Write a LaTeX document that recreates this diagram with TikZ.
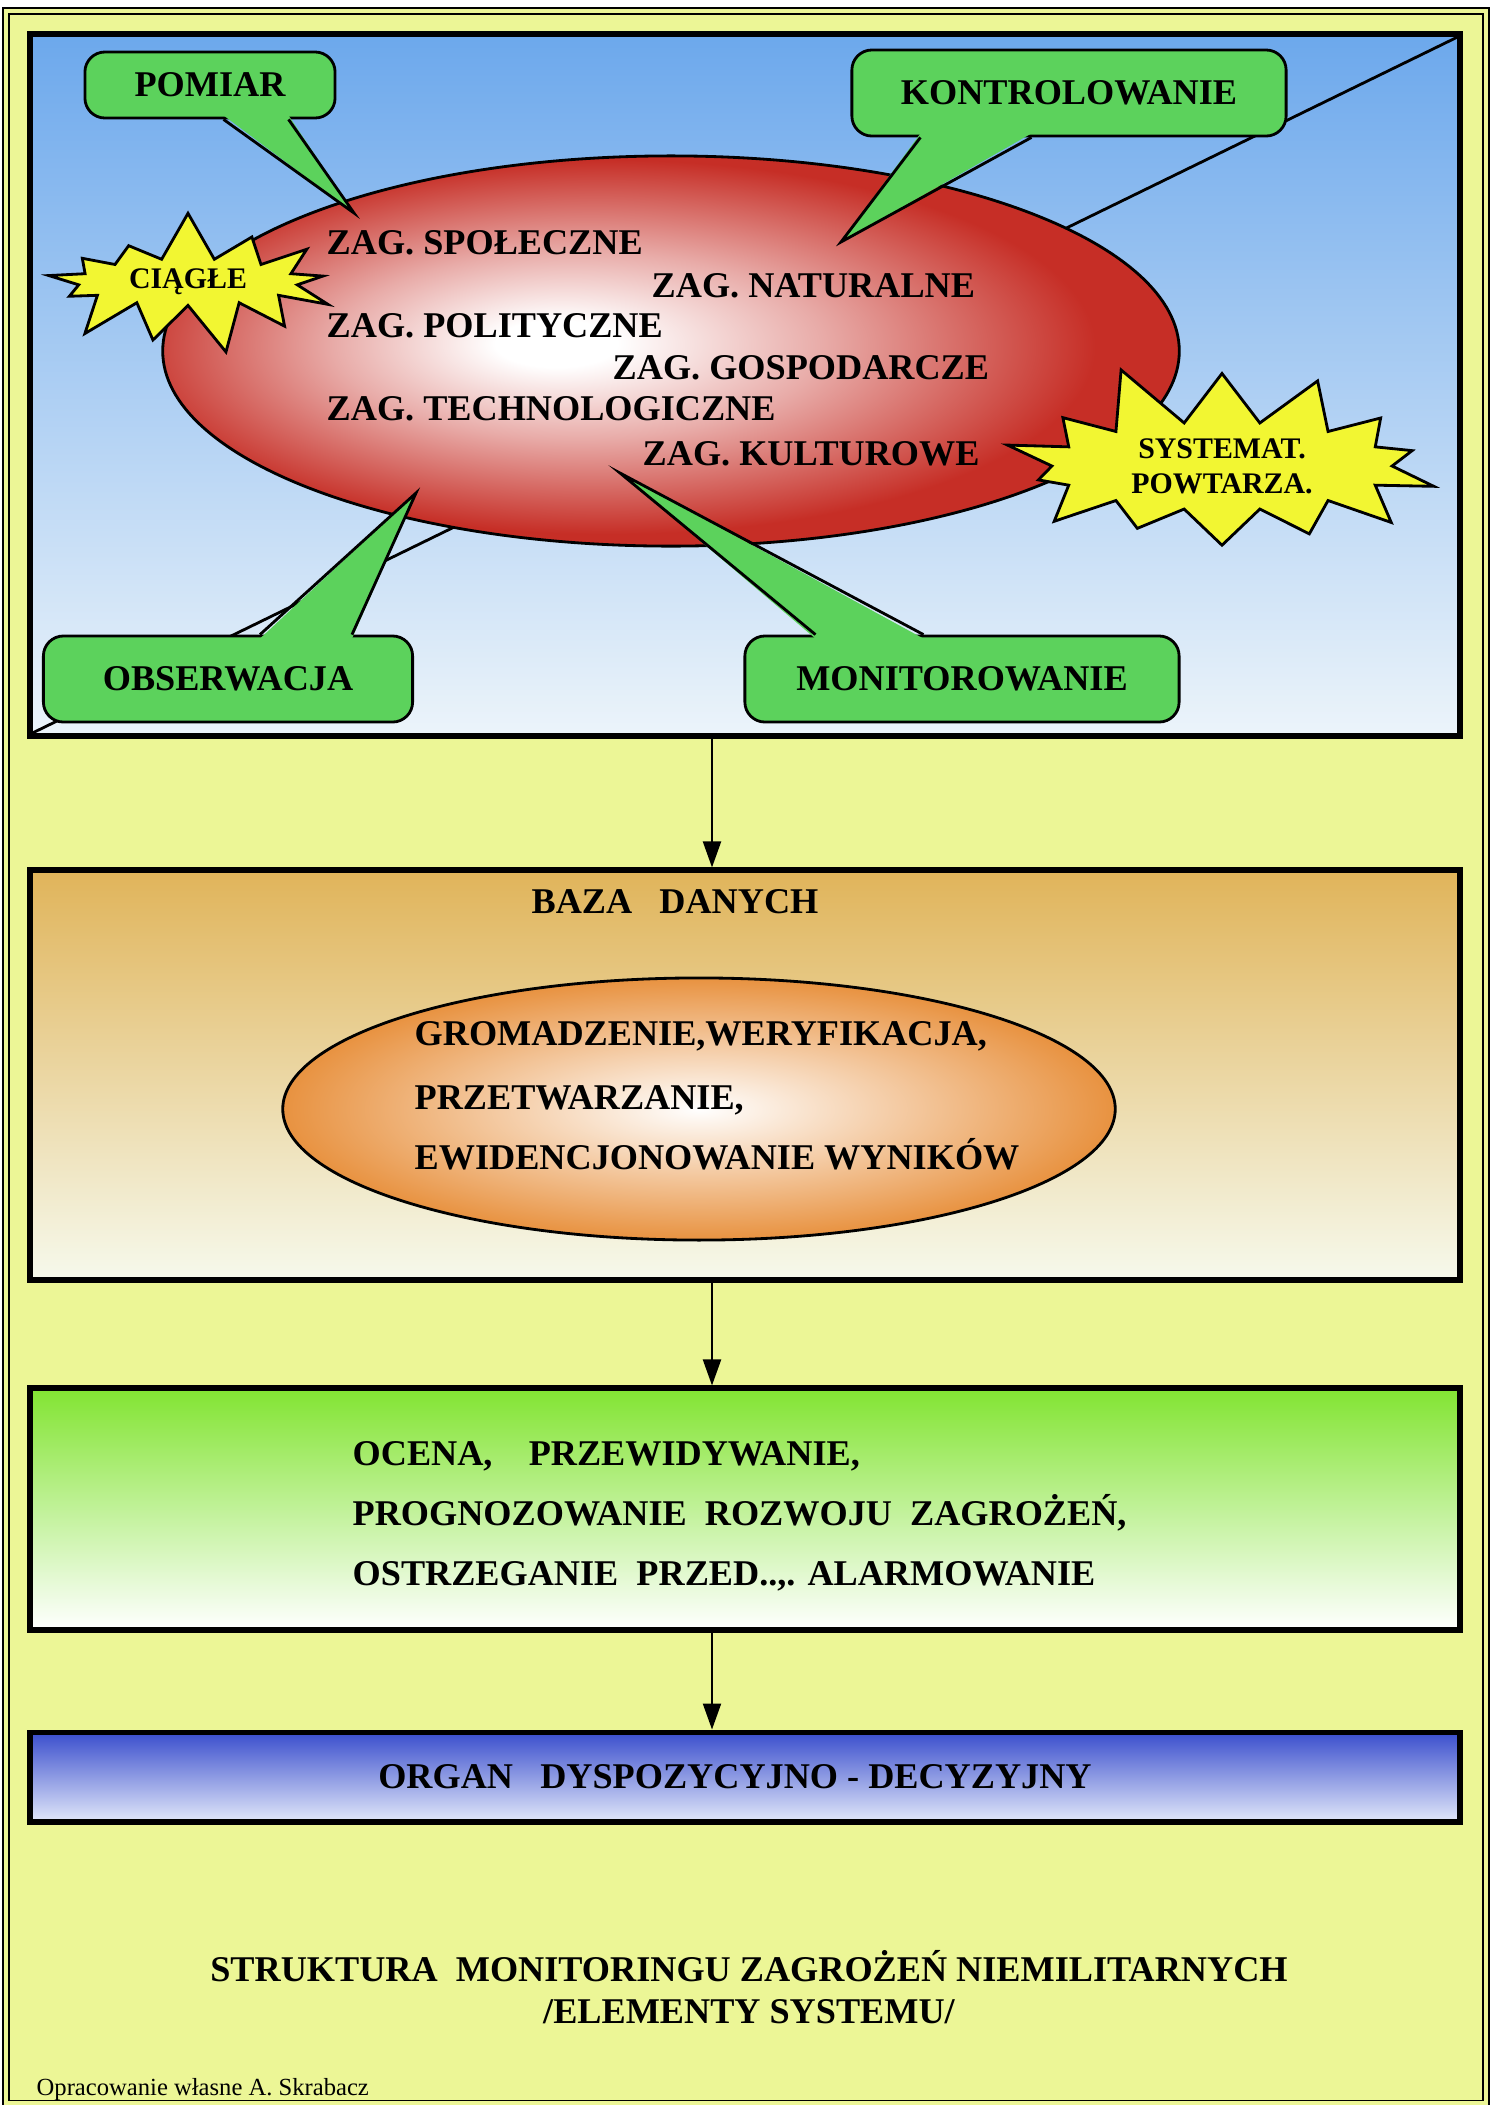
\documentclass[tikz,border=0pt]{standalone}
\usepackage{fontspec}
\setmainfont{Liberation Serif}
\usepackage{tikz}
\usetikzlibrary{calc}
\usetikzlibrary{arrows.meta}
\usetikzlibrary{shapes.geometric}
\usetikzlibrary{shapes.symbols}
\definecolor{pagebg}{RGB}{236,246,150}
\definecolor{skytop}{RGB}{108,168,236}
\definecolor{skybottom}{RGB}{236,244,250}
\definecolor{threatred}{RGB}{198,46,38}
\definecolor{bubblegreen}{RGB}{92,210,92}
\definecolor{burstyellow}{RGB}{242,246,50}
\definecolor{storetop}{RGB}{224,180,90}
\definecolor{storemid}{RGB}{240,230,150}
\definecolor{storebottom}{RGB}{246,249,236}
\definecolor{taskorange}{RGB}{232,146,64}
\definecolor{assesstop}{RGB}{130,228,50}
\definecolor{assessmid}{RGB}{205,244,180}
\definecolor{decidetop}{RGB}{58,78,205}
\definecolor{decidebottom}{RGB}{226,232,250}
\pgfdeclareradialshading{redglow}{\pgfpoint{-6bp}{1bp}}{color(0bp)=(white); color(3bp)=(white); color(12bp)=(threatred!40!white); color(24bp)=(threatred); color(50bp)=(threatred)}
\newcommand{\widthpanel}{14.3cm}
\newcommand{\sizetext}{\fontsize{10.3}{12}\selectfont\bfseries}
\newcommand{\sizeburst}{\fontsize{8.5}{10}\selectfont\bfseries}
\newcommand{\innerframe}[1]{\draw[line width=0.5pt] ([shift={(5,5)}]#1.north west) rectangle ([shift={(-5,-5)}]#1.south east);}
\newcommand{\bubblearm}[6]{%
  \fill[bubblegreen] ($(#1.#2 west)+(#3,#6)$) -- #5 -- ($(#1.#2 west)+(#4,#6)$) -- cycle;
  \draw[armline] ($(#1.#2 west)+(#3,0)$) -- #5 -- ($(#1.#2 west)+(#4,0)$);}
\tikzset{
    panel/.style={draw, rectangle, line width=1.4pt, minimum width=\widthpanel},
    word/.style={anchor=west, inner sep=0pt, text height=0.24cm, text depth=0cm, font=\sizetext},
    bubble/.style={draw, rectangle, rounded corners=0.2cm, fill=bubblegreen, line width=0.8pt, font=\sizetext},
    armline/.style={line width=0.8pt, line join=miter},
    burst/.style={draw, starburst, fill=burstyellow, line width=0.8pt, font=\sizeburst, align=center, inner sep=1pt},
    flow/.style={-{Triangle[length=0.26cm, width=0.18cm]}, line width=0.6pt}
}
\begin{document}
\begin{tikzpicture}[x=0.01cm, y=-0.01cm]
    \useasboundingbox (0,0) rectangle (1492,2105);
    \fill[pagebg] (6,11) rectangle (1486,2105);
    \draw[line width=0.5pt, double=pagebg, double distance=1pt] (6,11) rectangle (1486,2103);

    % observation field
    \node[panel, minimum height=7.02cm, top color=skytop, bottom color=skybottom] (sense) at (745,385) {};
    \innerframe{sense}
    \draw[line width=0.8pt] ([shift={(-6,6)}]sense.north east) -- ([shift={(6,-6)}]sense.south west);
    \node[draw, ellipse, line width=0.8pt, minimum width=10.16cm, minimum height=3.9cm,
          shading=redglow] (threats) at (671,351) {};

    \node[bubble, minimum width=2.5cm, minimum height=0.66cm] (pomiar) at (210,85) {POMIAR};
    \bubblearm{pomiar}{south}{140}{205}{(354,213)}{-4}
    \node[bubble, minimum width=4.34cm, minimum height=0.86cm] (kontrol) at (1069,93) {KONTROLOWANIE};
    \bubblearm{kontrol}{south}{70}{181}{(841,242)}{-4}
    \node[bubble, minimum width=3.69cm, minimum height=0.86cm] (obserw) at (228,679) {OBSERWACJA};
    \bubblearm{obserw}{north}{218}{310}{(416,493)}{4}
    \node[bubble, minimum width=4.34cm, minimum height=0.86cm] (monitor) at (962,679) {MONITOROWANIE};
    \bubblearm{monitor}{north}{72}{180}{(620,473)}{4}

    \node[burst, minimum width=3.2cm, minimum height=1.4cm, starburst points=13,
          starburst point height=0.5cm, random starburst=7] (ciagle) at (188,282) {CIĄGŁE};
    \node[burst, minimum width=4.7cm, minimum height=1.8cm, starburst points=14,
          starburst point height=0.65cm, random starburst=11] (systemat) at (1222,466) {SYSTEMAT.\\POWTARZA.};

    \node[word] (social) at (326,242) {ZAG. SPOŁECZNE};
    \node[word] (natural) at (651,285) {ZAG. NATURALNE};
    \node[word] (politic) at (326,325) {ZAG. POLITYCZNE};
    \node[word] (economic) at (612,367) {ZAG. GOSPODARCZE};
    \node[word] (technic) at (326,408) {ZAG. TECHNOLOGICZNE};
    \node[word] (culture) at (642,453) {ZAG. KULTUROWE};

    % data base
    \node[panel, minimum height=4.1cm, top color=storetop, middle color=storemid, bottom color=storebottom] (store) at (745,1075) {};
    \innerframe{store}
    \node[font=\sizetext] (store-title) at (675,902) {BAZA\ \ \ DANYCH};
    \node[draw, ellipse, line width=0.8pt, minimum width=8.32cm, minimum height=2.62cm,
          inner color=white, outer color=taskorange] (tasks) at (699,1109) {};
    \node[word] (gather) at (414,1033) {GROMADZENIE,WERYFIKACJA,};
    \node[word] (process) at (414,1097) {PRZETWARZANIE,};
    \node[word] (record) at (414,1157) {EWIDENCJONOWANIE WYNIKÓW};

    % assessment
    \node[panel, minimum height=2.42cm, top color=assesstop, middle color=assessmid, bottom color=white] (assess) at (745,1509) {};
    \innerframe{assess}
    \node[word] (predict) at (352,1453) {OCENA,\quad PRZEWIDYWANIE,};
    \node[word] (forecast) at (352,1513) {PROGNOZOWANIE\ \ ROZWOJU\ \ ZAGROŻEŃ,};
    \node[word] (warn) at (352,1573) {OSTRZEGANIE\ \ PRZED..,. ALARMOWANIE};

    % decision
    \node[panel, minimum height=0.9cm, top color=decidetop, bottom color=decidebottom] (decide) at (745,1777) {};
    \innerframe{decide}
    \node[font=\sizetext] (decide-title) at (735,1777) {ORGAN\ \ \ DYSPOZYCYJNO - DECYZYJNY};

    \coordinate (axis) at (712,0);
    \draw[flow] (sense.south -| axis) -- (store.north -| axis);
    \draw[flow] (store.south -| axis) -- (assess.north -| axis);
    \draw[flow] (assess.south -| axis) -- (decide.north -| axis);

    \node[font=\sizetext, align=center] (caption) at (749,1987) {STRUKTURA\ \ MONITORINGU ZAGROŻEŃ NIEMILITARNYCH\\/ELEMENTY SYSTEMU/};
    \node[anchor=west, inner sep=0pt, font=\fontsize{7}{9}\selectfont] (credit) at (36,2090) {Opracowanie własne A. Skrabacz};
\end{tikzpicture}
\end{document}
